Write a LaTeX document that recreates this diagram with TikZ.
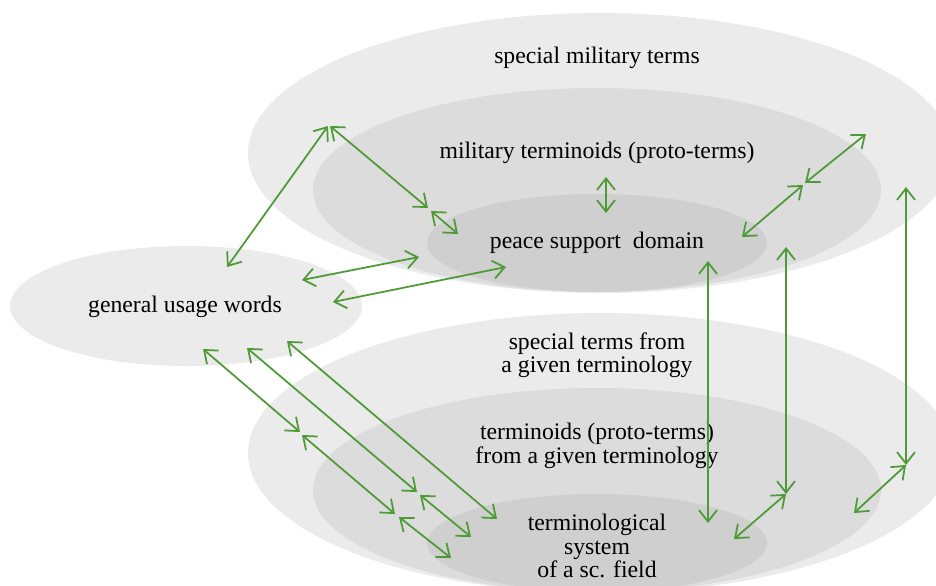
\documentclass[tikz,border=0pt]{standalone}
\usepackage{fontspec}
\setmainfont{Liberation Serif}
\usetikzlibrary{arrows.meta}

\definecolor{outergray}{HTML}{EBEBEB}
\definecolor{middlegray}{HTML}{DCDCDC}
\definecolor{innergray}{HTML}{CFCFCF}
\definecolor{linkgreen}{HTML}{4E9A36}

\tikzset{
	term/.style={align=center, text=black, inner sep=0pt, font=\fontsize{13.5}{13.4}\selectfont},
	link/.style={linkgreen, line width=1pt, {Straight Barb[length=2.3mm,width=3.6mm]}-{Straight Barb[length=2.3mm,width=3.6mm]}}
}

\begin{document}
\begin{tikzpicture}[x=0.02cm, y=-0.02cm]
	% Picture area (units are pixels, y runs downwards)
	\useasboundingbox (0,0) rectangle (936,585);
	\clip (0,0) rectangle (936,585);

	% Upper rings: military terms
	\fill[outergray] (600,153) ellipse [x radius=352, y radius=140];
	\fill[middlegray] (597,190) ellipse [x radius=284, y radius=102];
	\fill[innergray] (597,243) ellipse [x radius=170, y radius=49];

	% Lower rings: a given terminology (same rings, 300 lower)
	\fill[outergray] (600,453) ellipse [x radius=352, y radius=140];
	\fill[middlegray] (597,490) ellipse [x radius=284, y radius=102];
	\fill[innergray] (597,543) ellipse [x radius=170, y radius=49];

	% General vocabulary
	\fill[outergray] (186,306) ellipse [x radius=176, y radius=60];

	% Texts
	\node[term] (smt) at (597,58) {special military terms};
	\node[term] (mtp) at (597,153) {military terminoids (proto-terms)};
	\node[term] (psd) at (597,243) {peace support\ \ domain};
	\node[term] (guw) at (185,307) {general usage words};
	\node[term] (stf) at (597,355) {special terms from\\a given terminology};
	\node[term] (tft) at (597,446) {terminoids (proto-terms)\\from a given terminology};
	\node[term] (tsf) at (597,546) {terminological\\system\\of a sc. field};

	% Define coordinates
	% general usage words up to the military rings (G1, M1, M2, T1, T2, D1)
	\coordinate (G1) at (227,267);
	\coordinate (M1) at (328,126);
	\coordinate (M2) at (330,126);
	\coordinate (T1) at (428,208);
	\coordinate (T2) at (431,211);
	\coordinate (D1) at (458,234);
	% general usage words across to the peace support domain (G2, D2, G3, D3)
	\coordinate (G2) at (302,280);
	\coordinate (D2) at (419,257);
	\coordinate (G3) at (333,302);
	\coordinate (D3) at (506,267);
	% terminoids down to the domain (T3, D4)
	\coordinate (T3) at (606,177);
	\coordinate (D4) at (606,213);
	% right side of the upper rings (D5, T4, T5, M3)
	\coordinate (D5) at (742,237);
	\coordinate (T4) at (803,185);
	\coordinate (T5) at (805,183);
	\coordinate (M3) at (866,134);
	% top and bottom ends of the three verticals (U1..U3, L1..L3)
	\coordinate (U1) at (708,261);
	\coordinate (L1) at (708,523);
	\coordinate (U2) at (786,247);
	\coordinate (L2) at (786,494);
	\coordinate (U3) at (906,187);
	\coordinate (L3) at (906,465);
	% right side of the lower rings (F1, F2)
	\coordinate (F1) at (734,539);
	\coordinate (F2) at (854,513);
	% general usage words down to the lower rings
	\coordinate (G4) at (203,349);
	\coordinate (S1) at (300,432);
	\coordinate (S2) at (302,435);
	\coordinate (R1) at (395,514);
	\coordinate (R2) at (399,517);
	\coordinate (F3) at (451,558);
	\coordinate (G5) at (247,348);
	\coordinate (R3) at (417,492);
	\coordinate (R4) at (420,495);
	\coordinate (F4) at (471,537);
	\coordinate (G6) at (287,341);
	\coordinate (F5) at (497,519);

	% Draw the double arrows
	\foreach \a/\b in {G1/M1, M2/T1, T2/D1, G2/D2, G3/D3, T3/D4, D5/T4, T5/M3,
		U1/L1, U2/L2, U3/L3, F1/L2, F2/L3,
		G4/S1, S2/R1, R2/F3, G5/R3, R4/F4, G6/F5}
		\draw[link] (\a) -- (\b);
\end{tikzpicture}
\end{document}
